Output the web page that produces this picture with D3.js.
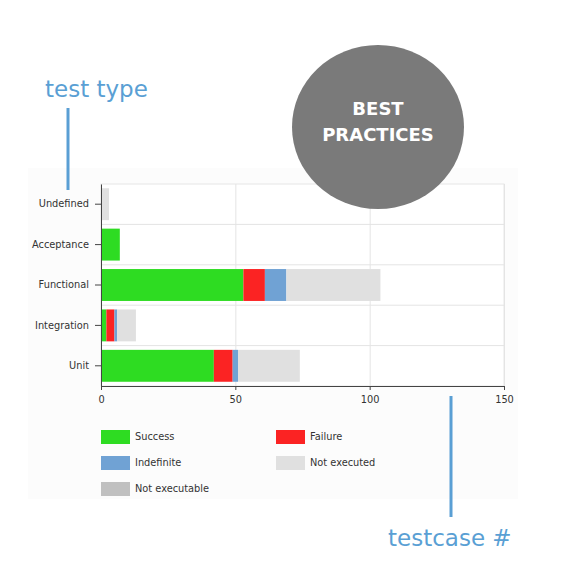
<!DOCTYPE html>
<html>
<head>
<meta charset="utf-8">
<script src="https://cdn.jsdelivr.net/npm/d3@7"></script>
<style>
  body { margin: 0; background: #fff; }
  svg text { font-family: "DejaVu Sans", Verdana, sans-serif; }
  .axis text { font-size: 9.8px; fill: #333; }
  .axis path, .axis line { stroke: #444; }
  .grid line { stroke: #e4e4e4; }
  .grid path { stroke: none; }
</style>
</head>
<body>
<svg id="chart" width="566" height="578"></svg>
<script>
const categories = ["Undefined", "Acceptance", "Functional", "Integration", "Unit"];
const seriesNames = ["Success", "Failure", "Indefinite", "Not executed", "Not executable"];
const success =       [0, 7, 53, 2, 42];
const failure =       [0, 0, 8, 3, 7];
const indefinite =    [0, 0, 8, 1, 2];
const notExecuted =   [3, 0, 35, 7, 23];
const notExecutable = [0, 0, 0, 0, 0];
const xTicks = [0, 50, 100, 150];
const colors = ["#2edc22", "#fb2323", "#70a2d4", "#e0e0e0", "#c0c0c0"];

const svg = d3.select("#chart");
const margin = {top: 184, left: 101},
    width = 403,
    height = 202;

// faint container behind the chart
svg.append("rect")
    .attr("x", 28).attr("y", 168)
    .attr("width", 490).attr("height", 331)
    .attr("fill", "#fcfcfc");

const chart = svg.append("g")
    .attr("transform", `translate(${margin.left}, ${margin.top})`);

chart.append("rect")
    .attr("width", width).attr("height", height)
    .attr("fill", "#fff")
    .attr("stroke", "#e6e6e6");

const xScale = d3.scaleLinear().domain([0, 150]).range([0, width]);
const yScale = d3.scaleBand().domain(categories).range([0, height]).paddingInner(0.21).paddingOuter(0.105);

// gridlines
chart.append("g")
    .attr("class", "grid")
    .call(d3.axisBottom(xScale).tickValues(xTicks).tickFormat("").tickSize(height));

const step = yScale.step();
chart.append("g")
    .attr("class", "grid")
    .selectAll("line")
    .data(categories.slice(1))
    .enter().append("line")
    .attr("x1", 0).attr("x2", width)
    .attr("y1", d => yScale(d) - yScale.paddingInner() * step / 2)
    .attr("y2", d => yScale(d) - yScale.paddingInner() * step / 2);

const table = categories.map((c, i) => ({
    cat: c,
    "Success": success[i],
    "Failure": failure[i],
    "Indefinite": indefinite[i],
    "Not executed": notExecuted[i],
    "Not executable": notExecutable[i]
}));
const stacked = d3.stack().keys(seriesNames)(table);
const zScale = d3.scaleOrdinal().domain(seriesNames).range(colors);

chart.selectAll(".series")
    .data(stacked)
    .enter().append("g")
    .attr("class", "series")
    .attr("fill", d => zScale(d.key))
    .selectAll("rect")
    .data(d => d)
    .enter().append("rect")
    .attr("x", d => xScale(d[0]))
    .attr("width", d => xScale(d[1]) - xScale(d[0]))
    .attr("y", d => yScale(d.data.cat))
    .attr("height", yScale.bandwidth());

chart.append("g")
    .attr("class", "axis")
    .call(d3.axisLeft(yScale).tickSize(6).tickPadding(6).tickSizeOuter(0));

chart.append("g")
    .attr("class", "axis")
    .attr("transform", `translate(0, ${height})`)
    .call(d3.axisBottom(xScale).tickValues(xTicks).tickSize(4).tickSizeOuter(0).tickPadding(6));

// legend
const legend = svg.selectAll(".legend")
    .data(seriesNames)
    .enter().append("g")
    .attr("class", "legend")
    .attr("transform", (d, i) => `translate(${101 + (i % 2) * 175}, ${430 + Math.floor(i / 2) * 26})`);

legend.append("rect")
    .attr("width", 29)
    .attr("height", 14)
    .attr("fill", zScale);

legend.append("text")
    .attr("x", 34)
    .attr("y", 7)
    .attr("dy", ".35em")
    .attr("font-size", 9.8)
    .attr("fill", "#333")
    .text(d => d);

// annotations
const blue = "#5a9fd4";
svg.append("text")
    .attr("x", 45).attr("y", 97)
    .attr("font-family", "'Open Sans', sans-serif")
    .attr("font-size", 23)
    .attr("fill", blue)
    .text("test type");
svg.append("line")
    .attr("x1", 68).attr("x2", 68).attr("y1", 108).attr("y2", 190)
    .attr("stroke", blue).attr("stroke-width", 3);

svg.append("text")
    .attr("x", 388).attr("y", 546)
    .attr("font-family", "'Open Sans', sans-serif")
    .attr("font-size", 23)
    .attr("fill", blue)
    .text("testcase #");
svg.append("line")
    .attr("x1", 451).attr("x2", 451).attr("y1", 396).attr("y2", 517)
    .attr("stroke", blue).attr("stroke-width", 3);

// badge
svg.append("ellipse")
    .attr("cx", 378).attr("cy", 127)
    .attr("rx", 86).attr("ry", 82)
    .attr("fill", "#7a7a7a");
svg.selectAll(".badge")
    .data(["BEST", "PRACTICES"])
    .enter().append("text")
    .attr("class", "badge")
    .attr("x", 378)
    .attr("y", (d, i) => 115 + i * 26)
    .attr("text-anchor", "middle")
    .attr("font-family", "Lato, sans-serif")
    .attr("font-weight", "bold")
    .attr("font-size", 18)
    .attr("fill", "#fff")
    .text(d => d);
</script>
</body>
</html>
